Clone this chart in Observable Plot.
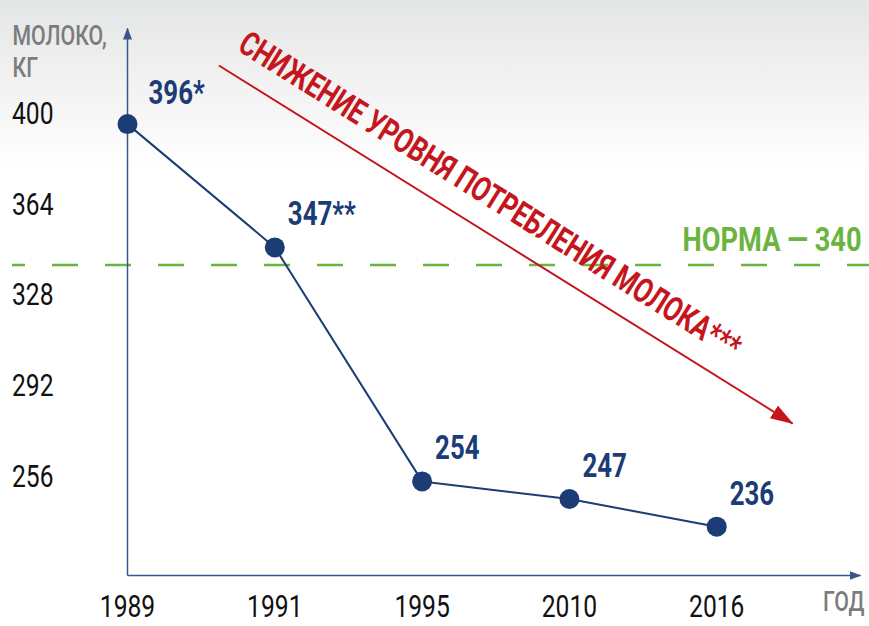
<!DOCTYPE html>
<html><head><meta charset="utf-8">
<script src="https://cdn.jsdelivr.net/npm/d3@7"></script>
<script src="https://cdn.jsdelivr.net/npm/@observablehq/plot@0.6"></script>
<style>
html,body{margin:0;padding:0;}
body{width:869px;height:626px;overflow:hidden;background:linear-gradient(#e4e5e6 0px,#f3f3f3 90px,#ffffff 170px);}
</style></head><body><div id="chart"></div>
<script>
// ---- data ----
const years = ["1989", "1991", "1995", "2010", "2016"];
const values = [396, 347, 254, 247, 236];
const labels = ["396*", "347**", "254", "247", "236"];
const yTicks = [256, 292, 328, 364, 400];
const norm = 340;
const normLabel = "НОРМА — 340";
const trendLabel = "СНИЖЕНИЕ УРОВНЯ ПОТРЕБЛЕНИЯ МОЛОКА***";
const yTitle = ["МОЛОКО,", "КГ"];
const xTitle = "ГОД";
// trend annotation arrow (in x-index / kg units)
const trendStart = [0.62, 419.3];
const trendEnd = [4.515, 277];
const trendTextAt = [2.46, 367.6];

// ---- layout / style ----
const FONT = "Roboto,'Noto Sans',sans-serif";
const NAVY = "#1c3c75";
const AXIS = "#3d5689";
const RED = "#c4161c";
const GREEN = "#6bb43f";
const GRAY = "#7c7c7c";
const xMax = 4.976;
const yMin = 216.6, yMax = 434;

const data = years.map((year, i) => ({i, year, value: values[i], label: labels[i]}));
const axes = [
  {x1: 0, y1: yMin, x2: 0, y2: yMax},
  {x1: 0, y1: yMin, x2: xMax, y2: yMin}
];
const trend = [{x1: trendStart[0], y1: trendStart[1], x2: trendEnd[0], y2: trendEnd[1]}];

const chart = Plot.plot({
  width: 869, height: 626,
  marginLeft: 127, marginRight: 9, marginTop: 28, marginBottom: 51,
  style: {background: "transparent", fontFamily: FONT, fontSize: "32px", color: "#111"},
  x: {domain: [0, xMax], ticks: years.map((_, i) => i), tickFormat: i => years[i], tickSize: 0, tickPadding: 19, label: null},
  y: {domain: [yMin, yMax], ticks: yTicks, tickSize: 0, tickPadding: 74, label: null},
  marks: [
    Plot.ruleY([norm], {stroke: GREEN, strokeWidth: 2.5, strokeDasharray: "26,27", strokeDashoffset: 13, insetLeft: -115, insetRight: -9}),
    Plot.link(axes, {x1: "x1", y1: "y1", x2: "x2", y2: "y2", stroke: AXIS, strokeWidth: 1.5}),
    Plot.link(trend, {x1: "x1", y1: "y1", x2: "x2", y2: "y2", stroke: RED, strokeWidth: 2}),
    Plot.line(data, {x: "i", y: "value", stroke: NAVY, strokeWidth: 2}),
    Plot.dot(data, {x: "i", y: "value", r: 10, fill: NAVY}),
    Plot.text(data, {filter: d => d.i === 0, x: "i", y: "value", text: "label", textAnchor: "start", dx: 21, dy: -31, fontSize: 34, fontWeight: "bold", fill: NAVY}),
    Plot.text(data, {filter: d => d.i > 0, x: "i", y: "value", text: "label", textAnchor: "start", dx: 13, dy: -33, fontSize: 34, fontWeight: "bold", fill: NAVY}),
    Plot.text([normLabel], {y: () => norm, text: d => d, frameAnchor: "right", textAnchor: "end", dx: 1, dy: -25, fontSize: 33, fontWeight: "bold", fill: GREEN}),
    Plot.text([trendLabel], {x: () => trendTextAt[0], y: () => trendTextAt[1], text: d => d, rotate: 32, fontSize: 34, fontWeight: "bold", fill: RED}),
    Plot.text([yTitle[0]], {text: d => d, frameAnchor: "top-left", textAnchor: "start", dx: -115, dy: -3, fontSize: 28, fontWeight: 500, fill: GRAY}),
    Plot.text([yTitle[1]], {text: d => d, frameAnchor: "top-left", textAnchor: "start", dx: -115, dy: 29, fontSize: 28, fontWeight: 500, fill: GRAY}),
    Plot.text([xTitle], {text: d => d, frameAnchor: "bottom-right", textAnchor: "end", dx: 4, dy: 35, fontSize: 28, fontWeight: 500, fill: GRAY})
  ]
});
document.getElementById("chart").appendChild(chart);

const svg = d3.select(chart);

// condensed lettering (the reference uses a condensed typeface):
// squeeze each text horizontally about its own anchor point
svg.selectAll("text").each(function() {
  const L = this.getComputedTextLength();
  if (!L) return;
  const g = this.closest("g[aria-label]");
  const kind = g ? g.getAttribute("aria-label") : "";
  const fill = this.getAttribute("fill") || (g && g.getAttribute("fill")) || "";
  const txt = this.textContent;
  let f = 0.8;
  if (kind.includes("axis")) f = 0.77;
  else if (txt === trendLabel) f = 585 / L;
  else if (txt === normLabel) f = 179 / L;
  else if (fill === GRAY) f = 0.76;
  else if (fill === NAVY) f = 0.76;
  const x = parseFloat(this.getAttribute("x")) || 0;
  const y = parseFloat(this.getAttribute("y")) || 0;
  const t = this.getAttribute("transform") || "";
  this.setAttribute("transform", `${t} translate(${x},${y}) scale(${f.toFixed(4)},1) translate(${-x},${-y})`);
});

// filled arrowheads
const defs = svg.insert("defs", ":first-child");
function marker(id, color, len, hw) {
  defs.append("marker").attr("id", id).attr("markerUnits", "userSpaceOnUse")
    .attr("viewBox", `${-len} ${-hw} ${len + 1} ${2 * hw}`)
    .attr("markerWidth", len + 1).attr("markerHeight", 2 * hw)
    .attr("refX", 0).attr("refY", 0).attr("orient", "auto")
    .append("path").attr("d", `M1,0L${-len},${-hw}L${-len},${hw}Z`).attr("fill", color);
}
marker("axisHead", AXIS, 11, 4.5);
marker("trendHead", RED, 22, 7.5);
const links = svg.selectAll('g[aria-label="link"]').nodes();
d3.select(links[0]).selectAll("path").attr("marker-end", "url(#axisHead)");
d3.select(links[1]).selectAll("path").attr("marker-end", "url(#trendHead)");
</script>
</body></html>
